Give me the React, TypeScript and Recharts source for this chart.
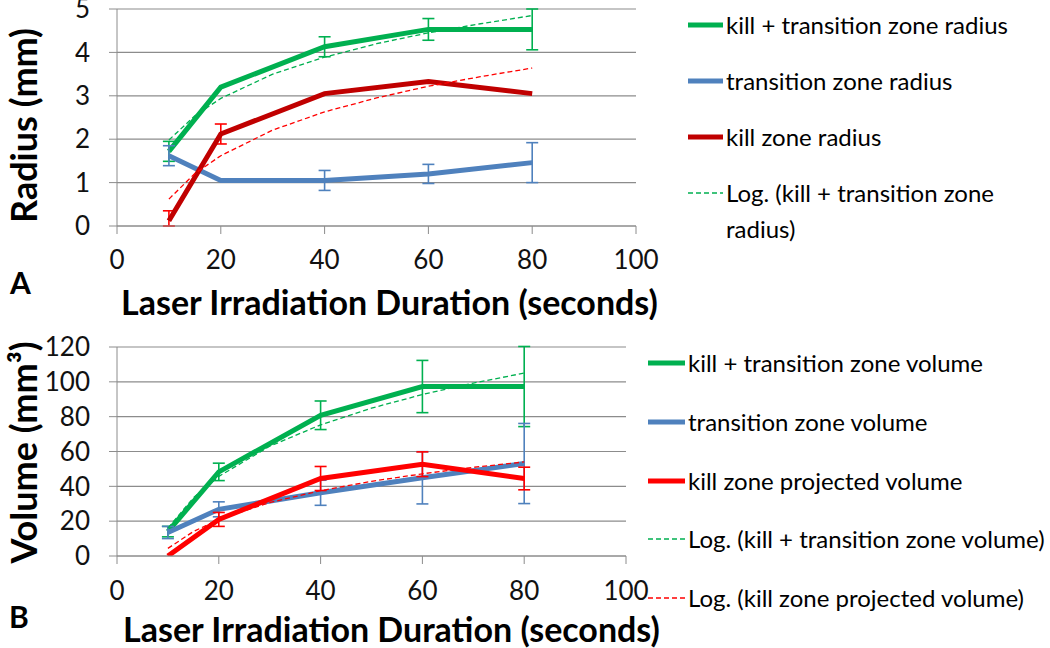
import { CartesianGrid, ErrorBar, Label, Line, LineChart, XAxis, YAxis } from "recharts";

const FONT = "Lato, 'Noto Sans', sans-serif";
const GREEN = "#00b050";
const BLUE = "#4f81bd";
const DARK_RED = "#c00000";
const RED = "#ff0000";
const GRID = "#8c8c8c";

const durations = [10, 20, 40, 60, 80];
const trendDurations = [10, 15, 20, 30, 40, 50, 60, 70, 80];
const xTicks = [0, 20, 40, 60, 80, 100];

// panel A, radius (mm)
const radiusTicks = [0, 1, 2, 3, 4, 5];
const killTransRadius = [1.72, 3.2, 4.13, 4.53, 4.53];
const killTransRadiusErr = [0.23, null, 0.23, 0.25, 0.47];
const transRadius = [1.62, 1.05, 1.05, 1.2, 1.46];
const transRadiusErr = [0.23, null, 0.23, 0.22, 0.46];
const killRadius = [0.12, 2.12, 3.05, 3.33, 3.05];
const killRadiusErr = [[0.12, 0.23], 0.23, null, null, null];
const killTransRadiusLog = [1.98, 2.54, 2.94, 3.5, 3.89, 4.2, 4.45, 4.66, 4.85];
const killRadiusLog = [0.62, 1.21, 1.62, 2.21, 2.63, 2.95, 3.22, 3.44, 3.64];

// panel B, volume (mm3)
const volumeTicks = [0, 20, 40, 60, 80, 100, 120];
const killTransVolume = [14, 48.3, 80.8, 97.3, 97.3];
const killTransVolumeErr = [3, 5, 8.2, 15, 23];
const transVolume = [13.5, 26.8, 36.3, 44.9, 53.1];
const transVolumeErr = [3.5, 4.3, 7.2, 15, 23];
const killVolume = [0, 21, 44.5, 52.7, 44.5];
const killVolumeErr = [null, 4, 6.9, 7.1, 6.5];
const killTransVolumeLog = [16, 33.4, 45.7, 63, 75.3, 84.9, 92.7, 99.3, 105];
const killVolumeLog = [4.4, 14, 21, 30.7, 37.5, 42.9, 47.2, 50.9, 54];

const radiusLegend = [
  { label: "kill + transition zone radius", color: GREEN },
  { label: "transition zone radius", color: BLUE },
  { label: "kill zone radius", color: DARK_RED },
  { label: "Log. (kill + transition zone radius)", color: GREEN, dashed: true },
];
const volumeLegend = [
  { label: "kill + transition zone volume", color: GREEN },
  { label: "transition zone volume", color: BLUE },
  { label: "kill zone projected volume", color: RED },
  { label: "Log. (kill + transition zone volume)", color: GREEN, dashed: true },
  { label: "Log. (kill zone projected volume)", color: RED, dashed: true },
];

type Err = number | number[] | null;

const rows = (xs: number[], ys: number[], errs?: Err[]) =>
  xs.map((x, i) => ({ x, y: ys[i], err: errs ? errs[i] : null }));

const tickStyle = { fill: "#111", fontSize: 26, fontFamily: FONT };

function XTitle({ viewBox, text, dx, dy }: any) {
  const { x, y, width } = viewBox;
  return (
    <text
      x={x + width / 2 + dx}
      y={y + dy}
      textAnchor="middle"
      dominantBaseline="central"
      fontFamily={FONT}
      fontWeight={700}
      fontSize={34}
      fill="#000"
    >
      {text}
    </text>
  );
}

function YTitle({ viewBox, text, dy }: any) {
  const cy = viewBox.y + viewBox.height / 2 + dy;
  return (
    <text
      x={23}
      y={cy}
      transform={`rotate(-90 23 ${cy})`}
      textAnchor="middle"
      dominantBaseline="central"
      fontFamily={FONT}
      fontWeight={700}
      fontSize={36}
      fill="#000"
    >
      {text}
    </text>
  );
}

function Series({ data, color, errColor, width = 5 }: any) {
  return (
    <Line
      data={data}
      dataKey="y"
      stroke={color}
      strokeWidth={width}
      dot={false}
      activeDot={false}
      isAnimationActive={false}
    >
      <ErrorBar
        dataKey="err"
        direction="y"
        width={6}
        stroke={errColor ?? color}
        strokeWidth={1.6}
        isAnimationActive={false}
      />
    </Line>
  );
}

function Trend({ data, color }: any) {
  return (
    <Line
      data={data}
      dataKey="y"
      stroke={color}
      strokeWidth={1.3}
      strokeDasharray="5 3"
      dot={false}
      activeDot={false}
      isAnimationActive={false}
    />
  );
}

function LegendBox({ items, left, top, step, lineW, width, wrap }: any) {
  return (
    <div style={{ position: "absolute", left, top, width, fontFamily: FONT, fontSize: 24, color: "#000" }}>
      {items.map((it: any, i: number) => (
        <div
          key={it.label}
          style={{ position: "absolute", top: i * step, left: 0, display: "flex", alignItems: "flex-start", width }}
        >
          <svg width={lineW} height={36} style={{ flex: "none" }}>
            <line
              x1={0}
              y1={18}
              x2={lineW}
              y2={18}
              stroke={it.color}
              strokeWidth={it.dashed ? 1.3 : 5}
              strokeDasharray={it.dashed ? "5 3" : undefined}
              strokeLinecap={it.dashed ? "butt" : "round"}
            />
          </svg>
          <span style={{ lineHeight: "36px", marginLeft: 3, whiteSpace: wrap ? "normal" : "nowrap" }}>{it.label}</span>
        </div>
      ))}
    </div>
  );
}

export default function App() {
  return (
    <div style={{ position: "absolute", left: 0, top: 0, width: 1050, height: 648, background: "#fff" }}>
      <LineChart width={680} height={320} margin={{ top: 9, right: 44, left: 57, bottom: 44 }}>
        <CartesianGrid horizontal vertical={false} stroke={GRID} strokeWidth={1.2} />
        <XAxis
          type="number"
          dataKey="x"
          domain={[0, 100]}
          ticks={xTicks}
          interval={0}
          allowDataOverflow
          height={50}
          stroke={GRID}
          tickSize={8}
          tickMargin={17}
          tick={tickStyle}
        >
          <Label content={(p: any) => <XTitle {...p} text="Laser Irradiation Duration (seconds)" dx={13} dy={75} />} />
        </XAxis>
        <YAxis
          type="number"
          domain={[0, 5]}
          ticks={radiusTicks}
          interval={0}
          allowDataOverflow
          width={60}
          stroke={GRID}
          tickSize={8}
          tickMargin={19}
          tick={tickStyle}
        >
          <Label content={(p: any) => <YTitle {...p} text="Radius (mm)" dy={8} />} />
        </YAxis>
        <Series data={rows(durations, killTransRadius, killTransRadiusErr)} color={GREEN} />
        <Series data={rows(durations, transRadius, transRadiusErr)} color={BLUE} />
        <Series data={rows(durations, killRadius, killRadiusErr)} color={DARK_RED} errColor={RED} />
        <Trend data={rows(trendDurations, killTransRadiusLog)} color={GREEN} />
        <Trend data={rows(trendDurations, killRadiusLog)} color={RED} />
      </LineChart>

      <div style={{ position: "absolute", top: 320, left: 0 }}>
        <LineChart width={660} height={328} margin={{ top: 27, right: 34, left: 57, bottom: 42 }}>
          <CartesianGrid horizontal vertical={false} stroke={GRID} strokeWidth={1.2} />
          <XAxis
            type="number"
            dataKey="x"
            domain={[0, 100]}
            ticks={xTicks}
            interval={0}
            allowDataOverflow
            height={50}
            stroke={GRID}
            tickSize={8}
            tickMargin={18}
            tick={tickStyle}
          >
            <Label content={(p: any) => <XTitle {...p} text="Laser Irradiation Duration (seconds)" dx={20} dy={72} />} />
          </XAxis>
          <YAxis
            type="number"
            domain={[0, 120]}
            ticks={volumeTicks}
            interval={0}
            allowDataOverflow
            width={60}
            stroke={GRID}
            tickSize={8}
            tickMargin={19}
            tick={tickStyle}
          >
            <Label content={(p: any) => <YTitle {...p} text="Volume (mm³)" dy={1} />} />
          </YAxis>
          <Series data={rows(durations, killTransVolume, killTransVolumeErr)} color={GREEN} />
          <Series data={rows(durations, transVolume, transVolumeErr)} color={BLUE} />
          <Series data={rows(durations, killVolume, killVolumeErr)} color={RED} />
          <Trend data={rows(trendDurations, killTransVolumeLog)} color={GREEN} />
          <Trend data={rows(trendDurations, killVolumeLog)} color={RED} />
        </LineChart>
      </div>

      <LegendBox items={radiusLegend} left={688} top={7} step={56} lineW={35} width={360} wrap />
      <LegendBox items={volumeLegend} left={648} top={345} step={58.8} lineW={37} width={402} />

      <div style={{ position: "absolute", left: 10, top: 264, fontFamily: FONT, fontWeight: 700, fontSize: 30 }}>A</div>
      <div style={{ position: "absolute", left: 9, top: 598, fontFamily: FONT, fontWeight: 700, fontSize: 30 }}>B</div>
    </div>
  );
}
